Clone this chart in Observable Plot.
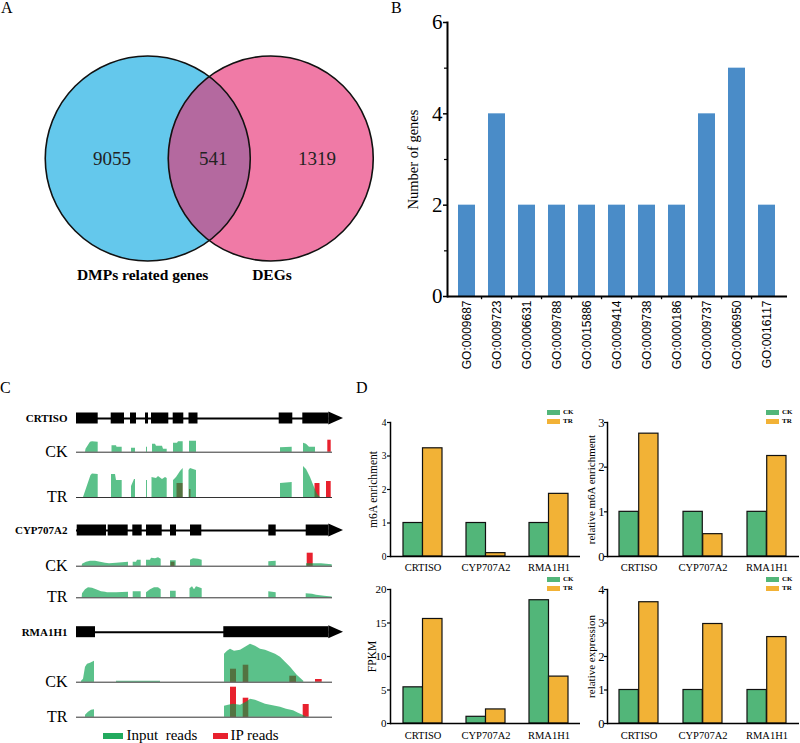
<!DOCTYPE html>
<html>
<head>
<meta charset="utf-8">
<script src="https://cdn.jsdelivr.net/npm/d3@7"></script>
<script src="https://cdn.jsdelivr.net/npm/@observablehq/plot@0.6"></script>
<style>
html,body{margin:0;padding:0;background:#fff;}
#fig{position:relative;width:800px;height:743px;overflow:hidden;font-family:'Liberation Serif','Times New Roman',serif;color:#000;}
.letter{position:absolute;font-size:16px;line-height:16px;}
.sw{position:absolute;width:13px;height:5px;}
.swt{position:absolute;font-size:7px;line-height:7px;font-weight:bold;}
</style>
</head>
<body>
<div id="fig"></div>
<script>
// ===================== DATA =====================
// Panel A – Venn diagram
const vennSetNames = ["DMPs related genes", "DEGs"];
const vennCounts = [9055, 541, 1319]; // left only, overlap, right only

// Panel B – GO terms
const goTerms = ["GO:0009687","GO:0009723","GO:0006631","GO:0009788","GO:0015886","GO:0009414","GO:0009738","GO:0000186","GO:0009737","GO:0006950","GO:0016117"];
const goCounts = [2, 4, 2, 2, 2, 2, 2, 2, 4, 5, 2];

// Panel C – gene models (relative position) and read coverage [position, depth]
const cGenes = ["CRTISO", "CYP707A2", "RMA1H1"];
const conditions = ["CK", "TR"];
const exonsCRTISO = [[0,21.7],[34.7,48],[54,60],[69,72],[75,92.3],[96.7,107.3],[112.5,121.5],[202.7,216.3],[226.3,252.3]];
const exonsCYP707A2 = [[0.7,30],[31.7,51.7],[56.3,65.7],[70,85.7],[94,100],[114,125.3],[192.3,199.7],[229.7,252.3]];
const exonsRMA1H1 = [[0,19],[147.3,252.3]];
const geneEnd = 267;
const trackEnd = 256;

const covCRTISO_CK = [[9,0],[9.5,3],[14,10],[16,10.5],[21.7,10],[21.7,0],[35.5,0],[35.5,6.5],[40,6.5],[40.5,5],[45.7,5],[45.7,0],[55,0],[55,4],[59,4],[59,0],[70,0],[70,5],[71,5],[71,0],[76,0],[76,8],[79,8],[80,6],[86,6],[87,3],[90.7,3],[90.7,0],[97,0],[97,9],[101,9],[102,10.5],[106.7,10.5],[106.7,0],[113,0],[113,11],[120,11],[120,0],[204,0],[204,4.5],[215.7,5],[215.7,0],[227,0],[227,9],[230,8],[233,5],[239,5],[239,0]];
const covCRTISO_TR = [[7,0],[14.5,22],[16,23.5],[21.7,23],[21.7,0],[35,0],[35,23],[39,23],[40,17],[45.7,17],[45.7,0],[55,0],[55,11],[58,18],[59,18],[59,0],[70,0],[70,17],[71,17],[71,0],[75.5,0],[75.5,20],[80,19],[82,21],[86,18],[89,20],[90.7,19],[90.7,0],[97,0],[97,17],[100,20],[104,26],[106.7,29],[106.7,0],[112.5,0],[112.5,27],[114,29],[120,27],[120,0],[204,0],[204,14],[215.7,15],[215.7,0],[227,0],[227,31],[230,28],[234,20],[238,10],[241,3],[244,0]];
const covCYP707A2_CK = [[5.7,0],[6,2],[10,4],[14,5],[19,5],[24,4],[29,3],[33,2.5],[40,3],[46,3.5],[52,4],[52,0],[56.7,0],[56.7,4],[60,4],[61,6],[64.7,6],[64.7,0],[70,0],[70,6],[74,6],[75,8],[79,7.5],[82,8.5],[84.7,7],[84.7,0],[94,0],[94,5.5],[99.7,5.5],[99.7,0],[114,0],[114,6],[117,7.5],[122,7],[125.7,6],[125.7,0],[192.3,0],[192.3,4.5],[199.7,5],[199.7,0],[230,0],[230,2.5],[245,2.5],[250,2],[255.7,1.5],[255.7,0]];
const covCYP707A2_TR = [[5.7,0],[6,4],[9,8],[12,10],[16,9.5],[20,8],[25,6],[29,5.5],[31,5],[40,5],[46,5.3],[52,5.5],[52,0],[56.7,0],[56.7,6],[64.7,6],[64.7,0],[70,0],[70,5],[74,8],[78,10],[82,10],[84.7,8],[84.7,0],[94,0],[94,6.5],[99.7,6.5],[99.7,0],[113.5,0],[113.5,9],[116,11],[118,8],[120,11],[123,10],[125.7,9],[125.7,0],[192.3,0],[192.3,6],[199.7,5],[199.7,0],[229.7,0],[229.7,4],[236,3.5],[240,2.5],[248,1.5],[255.7,0.7],[255.7,0]];
const covRMA1H1_CK = [[5,0],[5,1],[7,3],[9,15],[11,18],[14,19],[18,21],[18,0],[40,0],[40,1],[84,1],[84,0],[148,0],[148,28],[151,31],[154,33],[158,31],[164,32],[169,35],[174,38],[179,36],[184,33],[189,32],[194,30],[199,28],[204,25],[209,20],[214,15],[220.7,7],[227.3,1],[227.3,0]];
const covRMA1H1_TR = [[9,0],[9,2],[12,5],[15,7],[18,7.5],[18,0],[148,0],[148,11],[152,12],[157,13],[164,12],[170,15],[174,18],[179,17],[184,15],[189,13],[194,12],[199,11],[204,10],[210,8],[217,6.5],[222,4],[227,1.7],[230.7,0]];
// IP reads blocks [start, end, depth]
const ipCRTISO_CK = [[251.3,254.7,12]];
const ipCRTISO_TR = [[100.5,106.5,14],[113,114.5,8],[238.5,243.5,14],[250,254.7,16]];
const ipCYP707A2_CK = [[94.5,98.5,4],[230.7,236.7,13]];
const ipCYP707A2_TR = [];
const ipRMA1H1_CK = [[154,160,13],[166.7,172.3,17],[213.3,220,6],[239,245.7,2.7]];
const ipRMA1H1_TR = [[154,160,30],[166.7,172.3,19],[226.7,232.7,12.7]];
const cLegendLabels = ["Input\u00a0\u00a0reads", "IP reads"];

// Panel D
const genes = ["CRTISO", "CYP707A2", "RMA1H1"];
const groups = ["CK", "TR"];
const m6aCK = [1, 1, 1];
const m6aTR = [3.23, 0.1, 1.87];
const relM6aCK = [1, 1, 1];
const relM6aTR = [2.75, 0.5, 2.25];
const fpkmCK = [5.4, 1.0, 18.4];
const fpkmTR = [15.6, 2.1, 7.0];
const relExpCK = [1, 1, 1];
const relExpTR = [3.62, 2.97, 2.58];

// ===================== STYLE =====================
const SERIF = "'Liberation Serif','Times New Roman',serif";
const SANS = "'Liberation Sans',Arial,sans-serif";
const BLUE_V = "#64C8EC", PINK_V = "#F07AA6", PURPLE_V = "#B4699F";
const BAR_B = "#4A8CC8";
const COV_GREEN = "#03A04C", IP_RED = "#E8212E", LEG_GREEN = "#22AA5E";
const GREEN_D = "#52B679", ORANGE_D = "#F2B236";
const baseStyle = {background: "transparent", overflow: "visible", fontFamily: SERIF, color: "#000"};
const intFmt = d3.format("d");

const fig = document.getElementById("fig");
function place(node, left, top) {
  const d = document.createElement("div");
  d.style.cssText = `position:absolute;left:${left}px;top:${top}px;`;
  d.appendChild(node);
  fig.appendChild(d);
}
function html(cls, text, left, top, extra = "") {
  const d = document.createElement("div");
  d.className = cls;
  d.style.cssText += `left:${left}px;top:${top}px;${extra}`;
  d.textContent = text;
  fig.appendChild(d);
}

// ===================== PANEL A =====================
{
  const R = 102.5, cx = 208.75, cy = 158, W = 400, H = 300;
  const centers = [-0.6, 0.6];
  const lens = d3.range(-0.4, 0.4 + 1e-9, 0.004).map(x => ({
    x, h: Math.min(Math.sqrt(Math.max(0, 1 - (x - centers[0]) ** 2)), Math.sqrt(Math.max(0, 1 - (x - centers[1]) ** 2)))
  }));
  const countPos = [-0.95, 0.04, 1.05];
  const namePos = [-0.65, 0.612];
  const countRows = vennCounts.map((c, i) => ({c, x: countPos[i]}));
  const nameRows = vennSetNames.map((n, i) => ({n, x: namePos[i]}));
  const p = Plot.plot({
    width: W, height: H, margin: 0, style: baseStyle,
    x: {domain: [-cx / R, (W - cx) / R], axis: null},
    y: {domain: [-(H - cy) / R, cy / R], axis: null},
    marks: [
      Plot.dot([centers[0]], {x: d => d, y: () => 0, r: R, fill: BLUE_V}),
      Plot.dot([centers[1]], {x: d => d, y: () => 0, r: R, fill: PINK_V}),
      Plot.areaY(lens, {x: "x", y1: d => -d.h, y2: "h", fill: PURPLE_V}),
      Plot.dot(centers, {x: d => d, y: () => 0, r: R, fill: "none", stroke: "#111", strokeWidth: 1.6}),
      Plot.text(countRows, {x: "x", y: () => 0, text: d => String(d.c), fontSize: 19, fontFamily: SERIF, fill: "#222"}),
      Plot.text(nameRows, {x: "x", y: () => -1.19, text: "n", lineAnchor: "bottom", fontSize: 15.5, fontWeight: "bold", fontFamily: SERIF})
    ]
  });
  place(p, 0, 0);
}

// ===================== PANEL B =====================
{
  const W = 410, H = 390, mL = 57, mR = 13, mT = 22, mB = 94;
  const step = (W - mL - mR) / goTerms.length;
  const rows = goTerms.map((term, i) => ({term, count: goCounts[i]}));
  const p = Plot.plot({
    width: W, height: H, marginLeft: mL, marginRight: mR, marginTop: mT, marginBottom: mB, style: baseStyle,
    x: {domain: goTerms, paddingInner: 0.42, paddingOuter: 0.21},
    y: {domain: [0, 6]},
    marks: [
      Plot.barY(rows, {x: "term", y: "count", fill: BAR_B}),
      Plot.axisY({ticks: [0, 2, 4, 6], tickFormat: intFmt, tickSize: 4, tickPadding: 1, fontSize: 21, fontFamily: SERIF, label: null, strokeWidth: 1.5}),
      Plot.axisY({ticks: [1, 3, 5], tickSize: 3, tickFormat: () => "", label: null, strokeWidth: 1.2}),
      Plot.axisX({tickRotate: -90, tickSize: 0, tickPadding: 4, fontSize: 12, fontFamily: SANS, label: null}),
      Plot.ruleX(goTerms.slice(1), {x: d => d, dx: -step / 2, y1: () => 0, y2: () => -0.07, strokeWidth: 1.3}),
      Plot.ruleY([0], {strokeWidth: 2}),
      Plot.frame({anchor: "left", strokeWidth: 2}),
      Plot.text(["Number of genes"], {text: d => d, frameAnchor: "left", dx: -34, rotate: -90, textAnchor: "middle", fontSize: 14.5, fontFamily: SERIF})
    ]
  });
  place(p, 390, 0);
}

// ===================== PANEL C =====================
{
  const cLayout = [
    {gene: "CRTISO", geneY: 38, CK: 71.7, TR: 117},
    {gene: "CYP707A2", geneY: 150, CK: 185.7, TR: 217.3},
    {gene: "RMA1H1", geneY: 251.7, CK: 301.7, TR: 336.7}
  ];
  const exonsBy = {CRTISO: exonsCRTISO, CYP707A2: exonsCYP707A2, RMA1H1: exonsRMA1H1};
  const covBy = {
    CRTISO_CK: covCRTISO_CK, CRTISO_TR: covCRTISO_TR,
    CYP707A2_CK: covCYP707A2_CK, CYP707A2_TR: covCYP707A2_TR,
    RMA1H1_CK: covRMA1H1_CK, RMA1H1_TR: covRMA1H1_TR
  };
  const ipBy = {
    CRTISO_CK: ipCRTISO_CK, CRTISO_TR: ipCRTISO_TR,
    CYP707A2_CK: ipCYP707A2_CK, CYP707A2_TR: ipCYP707A2_TR,
    RMA1H1_CK: ipRMA1H1_CK, RMA1H1_TR: ipRMA1H1_TR
  };
  const exonH = 5.5, arrowH = 6.5;
  const trackRows = cLayout.flatMap(L => conditions.map(c => ({key: L.gene + "_" + c, gene: L.gene, cond: c, base: L[c]})));
  const exonRows = cLayout.flatMap(L => exonsBy[L.gene].map(([a, b]) => ({a, b, y: L.geneY})));
  const arrowRows = cLayout.flatMap(L => {
    const last = exonsBy[L.gene][exonsBy[L.gene].length - 1][1];
    return [{key: L.gene, x: last, y: L.geneY, h: arrowH}, {key: L.gene, x: geneEnd, y: L.geneY, h: 0}];
  });
  const covRows = trackRows.flatMap(t => covBy[t.key].map(([x, h]) => ({key: t.key, x, h, base: t.base})));
  const ipRows = trackRows.flatMap(t => ipBy[t.key].map(([a, b, h]) => ({a, b, h, base: t.base})));
  const legRows = [
    {label: cLegendLabels[0], fill: LEG_GREEN, a: 27, b: 47, t: 50},
    {label: cLegendLabels[1], fill: IP_RED, a: 137, b: 152, t: 154}
  ];
  const p = Plot.plot({
    width: 350, height: 363, margin: 0, style: baseStyle,
    x: {domain: [0, geneEnd], range: [76, 343], axis: null},
    y: {domain: [0, 363], range: [0, 363], axis: null},
    marks: [
      Plot.rect(ipRows, {x1: "a", x2: "b", y1: "base", y2: d => d.base - d.h, fill: IP_RED}),
      Plot.areaY(covRows, {x: "x", y1: "base", y2: d => d.base - d.h, z: "key", fill: COV_GREEN, fillOpacity: 0.65}),
      Plot.ruleY(trackRows, {y: "base", x1: () => 0, x2: () => trackEnd, stroke: "#333", strokeWidth: 1}),
      Plot.ruleY(cLayout, {y: "geneY", x1: () => 0, x2: () => 252.3, stroke: "#000", strokeWidth: 2}),
      Plot.rect(exonRows, {x1: "a", x2: "b", y1: d => d.y - exonH, y2: d => d.y + exonH, fill: "#000"}),
      Plot.areaY(arrowRows, {x: "x", y1: d => d.y - d.h, y2: d => d.y + d.h, z: "key", fill: "#000"}),
      Plot.text(cLayout, {x: () => 0, y: "geneY", dx: -9, text: "gene", textAnchor: "end", fontWeight: "bold", fontSize: 11, fontFamily: SERIF}),
      Plot.text(trackRows, {x: () => 0, y: d => d.base + 4.5, dx: -9, text: "cond", textAnchor: "end", lineAnchor: "bottom", fontSize: 16, fontFamily: SERIF}),
      Plot.rect(legRows, {x1: "a", x2: "b", y1: () => 353, y2: () => 359, fill: "fill"}),
      Plot.text(legRows, {x: "t", y: () => 359.5, text: "label", textAnchor: "start", lineAnchor: "bottom", fontSize: 15, fontFamily: SERIF})
    ]
  });
  place(p, 0, 380);
}

// ===================== PANEL D =====================
function dChart({ck, tr, yMax, ticks, yLabel, tickFont, axisLen, marginTop, marginBottom, height, labelDx, labelFont, xPad, marginRight, tickPad}) {
  const marginLeft = 35;
  const pi = 0.384;
  const bw = (axisLen / genes.length) * (1 - pi);
  const rowsCK = genes.map((g, i) => ({gene: g, group: groups[0], value: ck[i]}));
  const rowsTR = genes.map((g, i) => ({gene: g, group: groups[1], value: tr[i]}));
  return Plot.plot({
    width: marginLeft + axisLen + marginRight, height, marginLeft, marginRight, marginTop, marginBottom, style: baseStyle,
    x: {domain: genes, paddingInner: pi, paddingOuter: pi / 2},
    y: {domain: [0, yMax]},
    marks: [
      Plot.barY(rowsCK, {x: "gene", y: "value", fill: GREEN_D, stroke: "#111", strokeWidth: 1.2, insetLeft: 0, insetRight: bw / 2}),
      Plot.barY(rowsTR, {x: "gene", y: "value", fill: ORANGE_D, stroke: "#111", strokeWidth: 1.2, insetLeft: bw / 2, insetRight: 0}),
      Plot.axisY({ticks, tickFormat: intFmt, tickSize: 3, tickPadding: tickPad, fontSize: tickFont, fontFamily: SERIF, label: null, strokeWidth: 1.2}),
      Plot.axisX({tickSize: 0, tickPadding: xPad, fontSize: 10.5, fontFamily: SERIF, label: null}),
      Plot.ruleY([0], {strokeWidth: 1.5}),
      Plot.frame({anchor: "left", strokeWidth: 1.5}),
      Plot.text([yLabel], {text: d => d, frameAnchor: "left", dx: labelDx, rotate: -90, textAnchor: "middle", fontSize: labelFont, fontFamily: SERIF})
    ]
  });
}
place(dChart({ck: m6aCK, tr: m6aTR, yMax: 4, ticks: [0, 1, 2, 3, 4], yLabel: "m6A enrichment", tickFont: 9.5, tickPad: 1, axisLen: 190, marginTop: 24, marginBottom: 22, height: 180, labelDx: -17, labelFont: 11.5, xPad: 7, marginRight: 5}), 355, 398);
place(dChart({ck: relM6aCK, tr: relM6aTR, yMax: 3, ticks: [0, 1, 2, 3], yLabel: "relative m6A enrichment", tickFont: 12.5, tickPad: 0, axisLen: 192, marginTop: 24, marginBottom: 22, height: 180, labelDx: -16, labelFont: 11, xPad: 7, marginRight: 1}), 572, 398);
place(dChart({ck: fpkmCK, tr: fpkmTR, yMax: 20, ticks: [0, 5, 10, 15, 20], yLabel: "FPKM", tickFont: 11, tickPad: 1, axisLen: 190, marginTop: 11, marginBottom: 20, height: 165, labelDx: -18, labelFont: 11.5, xPad: 8.5, marginRight: 5}), 355, 578);
place(dChart({ck: relExpCK, tr: relExpTR, yMax: 4, ticks: [0, 1, 2, 3, 4], yLabel: "relative expression", tickFont: 12.5, tickPad: 0, axisLen: 192, marginTop: 11, marginBottom: 20, height: 165, labelDx: -16, labelFont: 11, xPad: 8.5, marginRight: 1}), 572, 578);

// Panel D legends (HTML swatches)
function dLegend(left, top) {
  const colors = [GREEN_D, ORANGE_D];
  groups.forEach((g, i) => {
    html("sw", "", left, top + i * 9.3, `background:${colors[i]};`);
    html("swt", g, left + 16, top + i * 9.3 - 1);
  });
}
dLegend(547, 410);
dLegend(766, 410);
dLegend(547, 577);
dLegend(766, 577);

// Panel letters
html("letter", "A", 1, 0);
html("letter", "B", 391, 0);
html("letter", "C", 0, 380);
html("letter", "D", 356, 380);
</script>
</body>
</html>
